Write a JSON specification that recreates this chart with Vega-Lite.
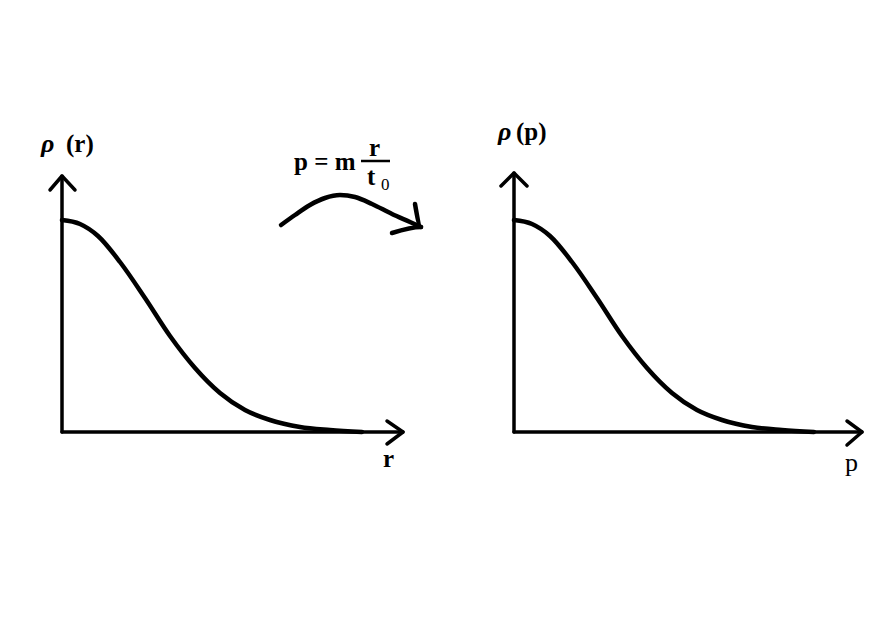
{
  "$schema": "https://vega.github.io/schema/vega-lite/v6.json",
  "width": 886,
  "height": 623,
  "autosize": {"type": "fit", "contains": "padding"},
  "padding": 0,
  "background": "white",
  "config": {"view": {"stroke": null}},
  "datasets": {
    "axes": [
      {"id": "ly", "o": 0, "x": 62, "y": 432}, {"id": "ly", "o": 1, "x": 62, "y": 176},
      {"id": "lyh", "o": 0, "x": 50, "y": 190}, {"id": "lyh", "o": 1, "x": 62, "y": 176}, {"id": "lyh", "o": 2, "x": 75, "y": 190},
      {"id": "lx", "o": 0, "x": 62, "y": 432}, {"id": "lx", "o": 1, "x": 403, "y": 432},
      {"id": "lxh", "o": 0, "x": 387, "y": 421}, {"id": "lxh", "o": 1, "x": 403, "y": 432}, {"id": "lxh", "o": 2, "x": 387, "y": 444},
      {"id": "ry", "o": 0, "x": 514, "y": 432}, {"id": "ry", "o": 1, "x": 514, "y": 173},
      {"id": "ryh", "o": 0, "x": 501, "y": 186}, {"id": "ryh", "o": 1, "x": 514, "y": 173}, {"id": "ryh", "o": 2, "x": 527, "y": 186},
      {"id": "rx", "o": 0, "x": 514, "y": 432}, {"id": "rx", "o": 1, "x": 862, "y": 432},
      {"id": "rxh", "o": 0, "x": 847, "y": 421}, {"id": "rxh", "o": 1, "x": 862, "y": 432}, {"id": "rxh", "o": 2, "x": 847, "y": 445}
    ],
    "curves": [
      {"id": "lc", "o": 0, "x": 62, "y": 220}, {"id": "lc", "o": 1, "x": 80, "y": 224}, {"id": "lc", "o": 2, "x": 98, "y": 236},
      {"id": "lc", "o": 3, "x": 120, "y": 262}, {"id": "lc", "o": 4, "x": 145, "y": 298}, {"id": "lc", "o": 5, "x": 170, "y": 336},
      {"id": "lc", "o": 6, "x": 195, "y": 368}, {"id": "lc", "o": 7, "x": 220, "y": 393}, {"id": "lc", "o": 8, "x": 245, "y": 410},
      {"id": "lc", "o": 9, "x": 270, "y": 420}, {"id": "lc", "o": 10, "x": 300, "y": 427}, {"id": "lc", "o": 11, "x": 330, "y": 430},
      {"id": "lc", "o": 12, "x": 362, "y": 432},
      {"id": "rc", "o": 0, "x": 514, "y": 220}, {"id": "rc", "o": 1, "x": 532, "y": 224}, {"id": "rc", "o": 2, "x": 550, "y": 236},
      {"id": "rc", "o": 3, "x": 572, "y": 262}, {"id": "rc", "o": 4, "x": 597, "y": 298}, {"id": "rc", "o": 5, "x": 622, "y": 336},
      {"id": "rc", "o": 6, "x": 647, "y": 368}, {"id": "rc", "o": 7, "x": 672, "y": 393}, {"id": "rc", "o": 8, "x": 697, "y": 410},
      {"id": "rc", "o": 9, "x": 722, "y": 420}, {"id": "rc", "o": 10, "x": 752, "y": 427}, {"id": "rc", "o": 11, "x": 782, "y": 430},
      {"id": "rc", "o": 12, "x": 814, "y": 432},
      {"id": "arc", "o": 0, "x": 281, "y": 225}, {"id": "arc", "o": 1, "x": 295, "y": 215}, {"id": "arc", "o": 2, "x": 310, "y": 205},
      {"id": "arc", "o": 3, "x": 325, "y": 198}, {"id": "arc", "o": 4, "x": 340, "y": 195}, {"id": "arc", "o": 5, "x": 355, "y": 197},
      {"id": "arc", "o": 6, "x": 372, "y": 204}, {"id": "arc", "o": 7, "x": 392, "y": 214}, {"id": "arc", "o": 8, "x": 410, "y": 222},
      {"id": "arc", "o": 9, "x": 421, "y": 227},
      {"id": "arh", "o": 0, "x": 415, "y": 204}, {"id": "arh", "o": 1, "x": 421, "y": 227}, {"id": "arh", "o": 2, "x": 392, "y": 233}
    ],
    "bar": [
      {"id": "fb", "o": 0, "x": 361, "y": 161}, {"id": "fb", "o": 1, "x": 390, "y": 161}
    ],
    "greek": [
      {"x": 41, "y": 152, "t": "ρ"},
      {"x": 498, "y": 140, "t": "ρ"}
    ],
    "labels": [
      {"x": 66, "y": 152, "t": "(r)"},
      {"x": 516, "y": 140, "t": "(p)"},
      {"x": 294, "y": 170, "t": "p = m"},
      {"x": 369, "y": 156, "t": "r"},
      {"x": 367, "y": 185, "t": "t"},
      {"x": 383, "y": 467, "t": "r"}
    ],
    "plain": [
      {"x": 845, "y": 471, "t": "p"}
    ],
    "sub": [
      {"x": 381, "y": 190, "t": "0"}
    ]
  },
  "encoding": {
    "x": {"field": "x", "type": "quantitative", "scale": {"domain": [0, 886], "nice": false, "zero": false}, "axis": null},
    "y": {"field": "y", "type": "quantitative", "scale": {"domain": [0, 623], "reverse": true, "nice": false, "zero": false}, "axis": null}
  },
  "layer": [
    {
      "data": {"name": "axes"},
      "mark": {"type": "line", "color": "black", "strokeWidth": 3.5, "strokeCap": "round", "strokeJoin": "round"},
      "encoding": {"detail": {"field": "id"}, "order": {"field": "o", "type": "quantitative"}}
    },
    {
      "data": {"name": "curves"},
      "mark": {"type": "line", "color": "black", "strokeWidth": 4.5, "strokeCap": "round", "strokeJoin": "round", "interpolate": "monotone"},
      "encoding": {"detail": {"field": "id"}, "order": {"field": "o", "type": "quantitative"}}
    },
    {
      "data": {"name": "bar"},
      "mark": {"type": "line", "color": "black", "strokeWidth": 2.5},
      "encoding": {"detail": {"field": "id"}, "order": {"field": "o", "type": "quantitative"}}
    },
    {
      "data": {"name": "greek"},
      "mark": {"type": "text", "font": "Liberation Serif", "fontSize": 26, "fontWeight": "bold", "fontStyle": "italic", "align": "left", "baseline": "alphabetic", "color": "black"},
      "encoding": {"text": {"field": "t"}}
    },
    {
      "data": {"name": "labels"},
      "mark": {"type": "text", "font": "Liberation Serif", "fontSize": 25, "fontWeight": "bold", "align": "left", "baseline": "alphabetic", "color": "black"},
      "encoding": {"text": {"field": "t"}}
    },
    {
      "data": {"name": "plain"},
      "mark": {"type": "text", "font": "Liberation Serif", "fontSize": 26, "align": "left", "baseline": "alphabetic", "color": "black"},
      "encoding": {"text": {"field": "t"}}
    },
    {
      "data": {"name": "sub"},
      "mark": {"type": "text", "font": "Liberation Serif", "fontSize": 17, "align": "left", "baseline": "alphabetic", "color": "black"},
      "encoding": {"text": {"field": "t"}}
    }
  ]
}
